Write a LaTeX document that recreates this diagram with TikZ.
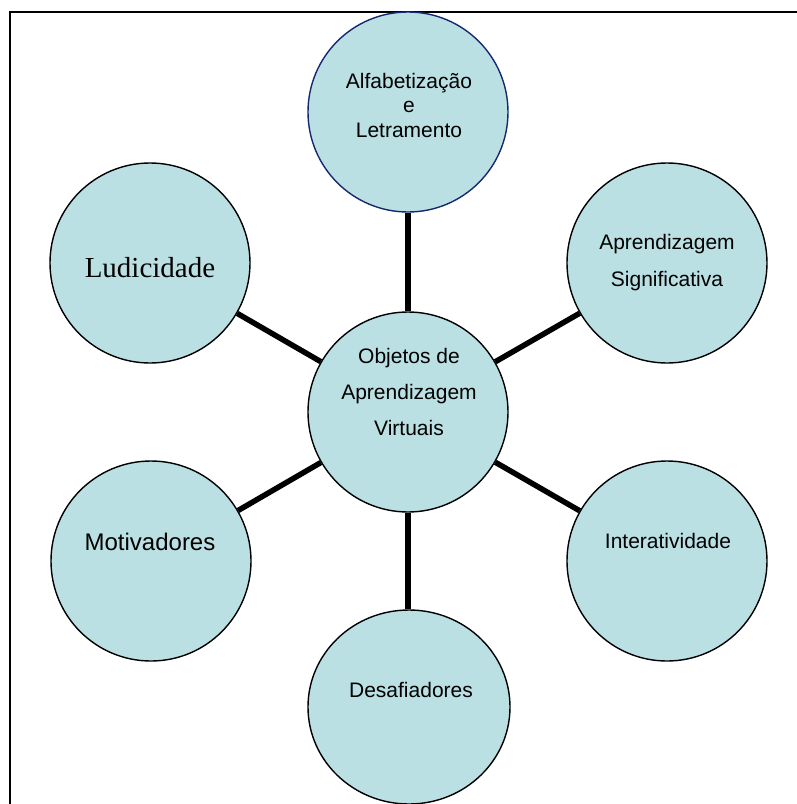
\documentclass[tikz,border=0pt]{standalone}
\usepackage{fontspec}
\setmainfont{Liberation Sans}
\newfontfamily\timesfont{Liberation Serif}
\usetikzlibrary{shapes.geometric}
\definecolor{bubble}{RGB}{187,224,227}
\definecolor{navyline}{RGB}{22,40,110}
\begin{document}
\begin{tikzpicture}[x=1pt,y=-1pt,
  bub/.style={ellipse,draw=black,line width=1.4pt,fill=bubble,minimum width=200pt,minimum height=200pt,inner sep=0pt},
  txt/.style={anchor=base,inner sep=0pt,font=\fontsize{21}{25}\selectfont},
  conn/.style={line width=5.5pt,black}]
\useasboundingbox (0,0) rectangle (797,804);
% frame
\coordinate (fb) at (9.5,806);
\coordinate (ftl) at (9.5,11.5);
\coordinate (fr) at (799,11.5);
\draw[line width=2pt] (fb) -- (ftl) -- (fr);
% bubbles
\node[bub,draw=navyline] (alfa) at (408,112) {};
\node[bub] (cen) at (408,412) {};
\node[bub] (ludi) at (150,263) {};
\node[bub] (sig) at (667,263) {};
\node[bub] (moti) at (151,561) {};
\node[bub] (inter) at (667,561) {};
\node[bub,minimum width=202pt,minimum height=194pt] (desa) at (409,707) {};
% connectors
\draw[conn] (cen) -- (alfa);
\draw[conn] (cen) -- (ludi);
\draw[conn] (cen) -- (sig);
\draw[conn] (cen) -- (moti);
\draw[conn] (cen) -- (inter);
\draw[conn] (cen.south) -- (cen.south |- desa.north);
% texts
\node[txt] (alfa1) at (409,88) {Alfabetização};
\node[txt] (alfa2) at (409,112) {e};
\node[txt] (alfa3) at (409,137) {Letramento};
\node[txt] (cen1) at (409,363) {Objetos de};
\node[txt] (cen2) at (409,399) {Aprendizagem};
\node[txt] (cen3) at (409,435) {Virtuais};
\node[txt] (sig1) at (667,249) {Aprendizagem};
\node[txt] (sig2) at (667,286) {Significativa};
\node[txt,font=\timesfont\fontsize{29}{33}\selectfont] (ludit) at (150,277) {Ludicidade};
\node[txt,font=\fontsize{24}{28}\selectfont] (motit) at (150,550) {Motivadores};
\node[txt] (intert) at (668,548) {Interatividade};
\node[txt] (desat) at (411,697) {Desafiadores};
\end{tikzpicture}
\end{document}
